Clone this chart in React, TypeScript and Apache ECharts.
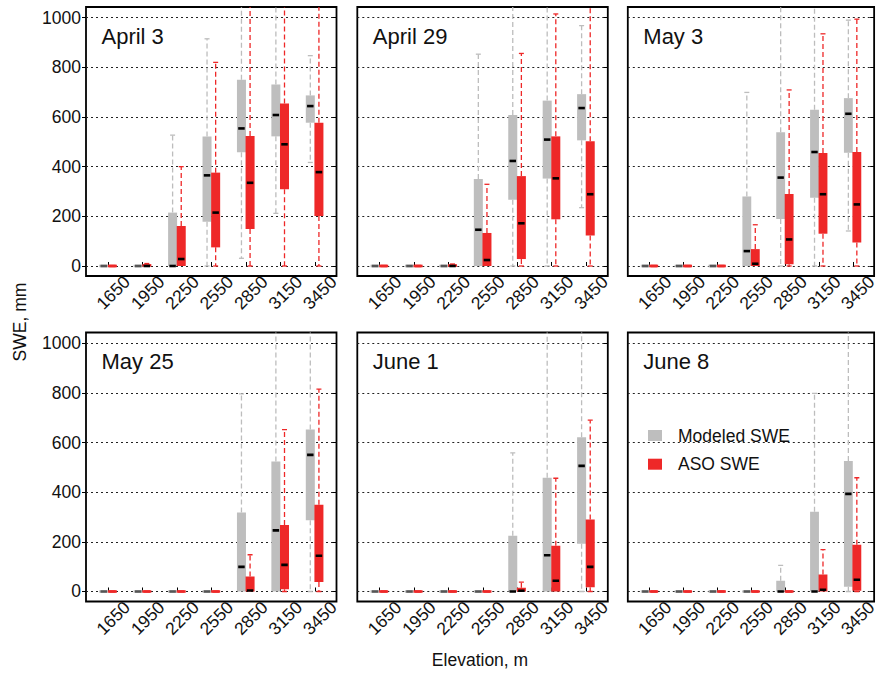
import React, { useEffect, useRef } from 'react';
import * as echarts from 'echarts';

// ---------- data ----------
const elevations = ['1650', '1950', '2250', '2550', '2850', '3150', '3450'];
const yTicks = [0, 200, 400, 600, 800, 1000];
const panelTitles = ['April 3', 'April 29', 'May 3', 'May 25', 'June 1', 'June 8'];
const seriesNames = ['Modeled SWE', 'ASO SWE'];

// each item: [low whisker, q1, median, q3, high whisker] (mm)
const april3Modeled = [
  [0, 0, 0, 0, 0],
  [0, 0, 0, 0, 0],
  [0, 0, 0, 215, 527],
  [0, 178, 365, 521, 915],
  [31, 458, 554, 750, 1200],
  [212, 522, 608, 731, 1200],
  [417, 577, 644, 687, 847],
];
const april3ASO = [
  [0, 0, 0, 0, 0],
  [0, 0, 0, 5, 10],
  [0, 0, 28, 161, 400],
  [0, 75, 215, 376, 820],
  [0, 149, 335, 523, 1200],
  [0, 309, 490, 654, 1200],
  [0, 201, 378, 577, 1200],
];
const april29Modeled = [
  [0, 0, 0, 0, 0],
  [0, 0, 0, 0, 0],
  [0, 0, 0, 0, 0],
  [0, 0, 146, 350, 853],
  [0, 267, 423, 608, 1200],
  [0, 352, 509, 666, 1200],
  [235, 506, 636, 692, 968],
];
const april29ASO = [
  [0, 0, 0, 0, 0],
  [0, 0, 0, 0, 0],
  [0, 0, 0, 4, 8],
  [0, 0, 24, 133, 329],
  [0, 28, 172, 362, 856],
  [0, 188, 353, 522, 1015],
  [0, 123, 289, 502, 1200],
];
const may3Modeled = [
  [0, 0, 0, 0, 0],
  [0, 0, 0, 0, 0],
  [0, 0, 0, 0, 0],
  [0, 0, 60, 280, 699],
  [0, 189, 356, 539, 1200],
  [0, 275, 459, 629, 1200],
  [141, 456, 613, 676, 990],
];
const may3ASO = [
  [0, 0, 0, 0, 0],
  [0, 0, 0, 0, 0],
  [0, 0, 0, 0, 0],
  [0, 0, 9, 68, 166],
  [0, 7, 107, 290, 709],
  [0, 130, 289, 455, 935],
  [0, 95, 248, 459, 994],
];
const may25Modeled = [
  [0, 0, 0, 0, 0],
  [0, 0, 0, 0, 0],
  [0, 0, 0, 0, 0],
  [0, 0, 0, 0, 0],
  [0, 0, 99, 318, 796],
  [0, 0, 246, 523, 1200],
  [0, 287, 550, 652, 1200],
];
const may25ASO = [
  [0, 0, 0, 0, 0],
  [0, 0, 0, 0, 0],
  [0, 0, 0, 0, 0],
  [0, 0, 0, 0, 0],
  [0, 0, 4, 60, 148],
  [0, 9, 107, 268, 652],
  [0, 38, 144, 349, 815],
];
const june1Modeled = [
  [0, 0, 0, 0, 0],
  [0, 0, 0, 0, 0],
  [0, 0, 0, 0, 0],
  [0, 0, 0, 0, 0],
  [0, 0, 0, 224, 558],
  [0, 0, 146, 458, 1200],
  [0, 192, 506, 621, 1200],
];
const june1ASO = [
  [0, 0, 0, 0, 0],
  [0, 0, 0, 0, 0],
  [0, 0, 0, 0, 0],
  [0, 0, 0, 0, 0],
  [0, 0, 3, 15, 38],
  [0, 0, 43, 184, 456],
  [0, 17, 99, 290, 690],
];
const june8Modeled = [
  [0, 0, 0, 0, 0],
  [0, 0, 0, 0, 0],
  [0, 0, 0, 0, 0],
  [0, 0, 0, 0, 0],
  [0, 0, 0, 43, 105],
  [0, 0, 0, 321, 798],
  [0, 19, 393, 526, 1200],
];
const june8ASO = [
  [0, 0, 0, 0, 0],
  [0, 0, 0, 0, 0],
  [0, 0, 0, 0, 0],
  [0, 0, 0, 0, 0],
  [0, 0, 0, 0, 0],
  [0, 0, 7, 68, 169],
  [0, 3, 47, 188, 458],
];

const modeledByPanel = [april3Modeled, april29Modeled, may3Modeled, may25Modeled, june1Modeled, june8Modeled];
const asoByPanel = [april3ASO, april29ASO, may3ASO, may25ASO, june1ASO, june8ASO];

// ---------- styling / layout ----------
const FONT = '"Liberation Sans", Arial, Helvetica, sans-serif';
const GRAY = '#bebebe';
const GRAY_WHISKER = '#bdbdbd';
const RED = '#ee2828';
const PANEL_LEFTS = [86, 357.3, 627.8];
const PANEL_TOPS = [7, 332.5];
const PANEL_W = 250.5;
const PANEL_H = 269;
const X_MIN = 0.353;
const X_MAX = 7.63;
const Y_MIN = -40.3;
const Y_MAX = 1043;
const xPositions = elevations.map((_, i) => i + 1);

function makeRender(side: number, fill: string, whisk: string, flatMed: string) {
  return (_params: any, api: any) => {
    const xi = api.value(0) as number;
    const low = api.value(1) as number;
    const q1 = api.value(2) as number;
    const med = api.value(3) as number;
    const q3 = api.value(4) as number;
    const high = api.value(5) as number;
    const c = api.coord([xi, 0])[0];
    const unit = api.size([1, 0])[0];
    const bw = unit * 0.262;
    const x0 = side < 0 ? c - bw : c - 0.4;
    const wx = x0 + bw / 2;
    const y = (v: number) => api.coord([xi, v])[1];
    const children: any[] = [];
    const dash = { stroke: whisk, lineWidth: 1.3, lineDash: [5, 3], fill: null };
    const solid = { stroke: whisk, lineWidth: 1.3, fill: null };
    if (high > q3) {
      children.push({ type: 'line', shape: { x1: wx, y1: y(q3), x2: wx, y2: y(high) }, style: dash });
      children.push({ type: 'line', shape: { x1: wx - 2.5, y1: y(high), x2: wx + 2.5, y2: y(high) }, style: solid });
    }
    if (low < q1) {
      children.push({ type: 'line', shape: { x1: wx, y1: y(q1), x2: wx, y2: y(low) }, style: dash });
      children.push({ type: 'line', shape: { x1: wx - 2.5, y1: y(low), x2: wx + 2.5, y2: y(low) }, style: solid });
    }
    const yt = y(q3);
    const yb = y(q1);
    let rectY = yt;
    let rectH = yb - yt;
    if (rectH < 2.6) {
      const m = (yt + yb) / 2;
      rectY = m - 1.3;
      rectH = 2.6;
    }
    children.push({ type: 'rect', shape: { x: x0, y: rectY, width: bw, height: rectH }, style: { fill } });
    const flat = q3 - q1 < 1;
    const mw = bw * 0.72;
    children.push({
      type: 'line',
      shape: { x1: x0 + (bw - mw) / 2, y1: y(med), x2: x0 + (bw + mw) / 2, y2: y(med) },
      style: { stroke: flat ? flatMed : '#000', lineWidth: 2.6 },
    });
    return { type: 'group', children };
  };
}

function buildOption() {
  const grid: any[] = [];
  const xAxis: any[] = [];
  const yAxis: any[] = [];
  const series: any[] = [];
  const graphic: any[] = [];

  panelTitles.forEach((title, i) => {
    const row = Math.floor(i / 3);
    const col = i % 3;
    const left = PANEL_LEFTS[col];
    const top = PANEL_TOPS[row];
    grid.push({
      left,
      top,
      width: PANEL_W,
      height: PANEL_H,
      show: true,
      borderColor: '#000',
      borderWidth: 1.8,
      backgroundColor: 'transparent',
      containLabel: false,
    });
    xAxis.push({
      gridIndex: i,
      type: 'value',
      min: X_MIN,
      max: X_MAX,
      axisLine: { show: false },
      axisTick: { show: true, inside: true, length: 4, customValues: xPositions, lineStyle: { color: '#000', width: 1 } },
      axisLabel: {
        show: true,
        customValues: xPositions,
        formatter: (v: number) => elevations[Math.round(v) - 1] ?? '',
        rotate: 45,
        align: 'center',
        verticalAlign: 'middle',
        padding: [0, 0, 0, 14],
        margin: 21.5,
        fontSize: 17.5,
        color: '#111',
        fontFamily: FONT,
      },
      splitLine: { show: false },
    });
    yAxis.push({
      gridIndex: i,
      type: 'value',
      min: Y_MIN,
      max: Y_MAX,
      axisLine: { show: false },
      axisTick: { show: col === 0, inside: false, length: 4, customValues: yTicks, lineStyle: { color: '#000', width: 1 } },
      axisLabel: {
        show: col === 0,
        customValues: yTicks,
        formatter: (v: number) => String(Math.round(v)),
        margin: 5,
        fontSize: 17.5,
        color: '#111',
        fontFamily: FONT,
      },
      splitLine: { show: true, lineStyle: { type: [2, 3], color: '#222', width: 1 } },
    });
    yAxis.push({
      gridIndex: i,
      type: 'value',
      position: 'right',
      min: Y_MIN,
      max: Y_MAX,
      axisLine: { show: false },
      axisTick: { show: true, inside: true, length: 4, customValues: yTicks, lineStyle: { color: '#000', width: 1 } },
      axisLabel: { show: false },
      splitLine: { show: false },
    });
    const groups = [
      { name: seriesNames[0], data: modeledByPanel[i], side: -1, fill: GRAY, whisk: GRAY_WHISKER, flatMed: '#555' },
      { name: seriesNames[1], data: asoByPanel[i], side: 1, fill: RED, whisk: RED, flatMed: RED },
    ];
    groups.forEach((g) => {
      series.push({
        type: 'custom',
        name: g.name,
        xAxisIndex: i,
        yAxisIndex: 2 * i,
        clip: true,
        silent: true,
        itemStyle: { color: g.fill },
        encode: { x: 0, y: [1, 2, 3, 4, 5] },
        data: g.data.map((d, k) => [xPositions[k], ...d]),
        renderItem: makeRender(g.side, g.fill, g.whisk, g.flatMed),
      });
    });
    graphic.push({
      type: 'text',
      x: left + 15.5,
      y: top + 29,
      style: { text: title, fontSize: 22, fill: '#111', fontFamily: FONT, align: 'left', verticalAlign: 'middle' },
    });
  });

  graphic.push({
    type: 'text',
    x: 20,
    y: 322,
    rotation: Math.PI / 2,
    style: { text: 'SWE, mm', fontSize: 17.5, fill: '#111', fontFamily: FONT, align: 'center', verticalAlign: 'middle' },
  });
  graphic.push({
    type: 'text',
    x: 480,
    y: 660,
    style: { text: 'Elevation, m', fontSize: 17.5, fill: '#111', fontFamily: FONT, align: 'center', verticalAlign: 'middle' },
  });

  return {
    animation: false,
    backgroundColor: '#fff',
    textStyle: { fontFamily: FONT },
    grid,
    xAxis,
    yAxis,
    series,
    graphic,
    legend: {
      data: seriesNames,
      orient: 'vertical',
      left: 648,
      top: 426.5,
      padding: 0,
      itemWidth: 14,
      itemHeight: 11,
      itemGap: 10.7,
      icon: 'rect',
      selectedMode: false,
      textStyle: { fontSize: 17.5, color: '#111', fontFamily: FONT, padding: [0, 0, 0, 11] },
    },
  };
}

export default function App() {
  const ref = useRef<HTMLDivElement | null>(null);
  useEffect(() => {
    if (!ref.current) return;
    const chart = echarts.init(ref.current, undefined, { renderer: 'svg' });
    chart.setOption(buildOption() as any);
    return () => chart.dispose();
  }, []);
  return (
    <div
      ref={ref}
      style={{ position: 'fixed', left: 0, top: 0, width: 880, height: 673, background: '#fff' }}
    />
  );
}
